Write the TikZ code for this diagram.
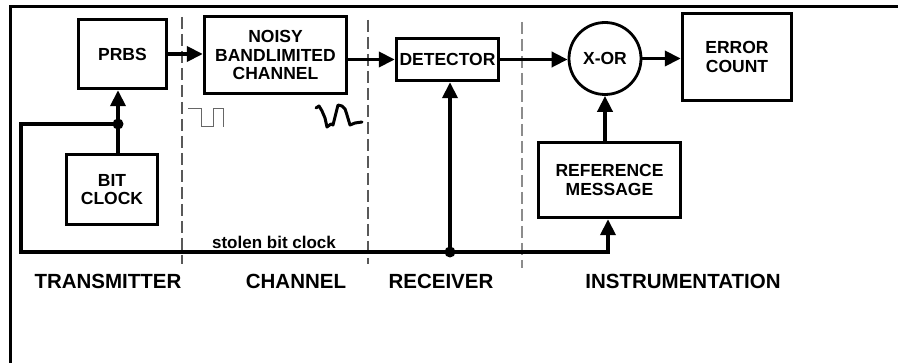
\documentclass[tikz,border=0pt]{standalone}
\usepackage{fontspec}
\setmainfont{Liberation Sans}
\usetikzlibrary{arrows.meta}
\newcommand{\blockfont}{\fontsize{17.5}{18.5}\selectfont\bfseries}
\newcommand{\regionfont}{\fontsize{20.5}{22}\selectfont\bfseries}
\newcommand{\wirefont}{\fontsize{17}{18}\selectfont\bfseries}
\tikzset{
  block/.style={draw, line width=3.4pt, font=\blockfont, align=center, inner sep=0pt},
  wire/.style={line width=3.8pt},
  flow/.style={wire, -{Triangle[length=16pt,width=15pt]}},
  junction/.style={circle, fill, inner sep=0pt, minimum size=11pt},
  divider/.style={dash pattern=on 12pt off 5pt, line width=1.3pt, black!65},
  region/.style={font=\regionfont}
}

\begin{document}
\begin{tikzpicture}[x=1pt, y=-1pt]

\useasboundingbox (0,0) rectangle (898,363);
\draw[line width=3pt] (10,363) -- (10,7) -- (898,7);

\coordinate (clk) at (118,124);
\coordinate (tap) at (450,252);
\coordinate (loopNW) at (21,124);
\coordinate (loopSW) at (21,252);
\coordinate (refin) at (608,252);

\node[block, minimum width=88pt, minimum height=69pt] (prbs) at (122.5,54) {PRBS};
\node[block, minimum width=142pt, minimum height=77pt] (channel) at (275.5,55) {NOISY\\BANDLIMITED\\CHANNEL};
\node[block, minimum width=102pt, minimum height=42pt] (detector) at (447.5,59.5) {DETECTOR};
\node[block, circle, line width=2.8pt, minimum size=72pt] (xor) at (605,58.5) {X-OR};
\node[block, minimum width=109pt, minimum height=87pt] (errcount) at (737,57) {ERROR\\COUNT};
\node[block, minimum width=142pt, minimum height=75pt] (refmsg) at (609.5,180) {REFERENCE\\MESSAGE};
\node[block, minimum width=91pt, minimum height=70pt] (bitclock) at (112,189.5) {BIT\\CLOCK};

% section borders
\draw[divider] (182,17) -- (182,264);
\draw[divider] (368,20) -- (368,264);
\draw[divider, black!45] (522,22) -- (522,268);

\draw[flow] (prbs.east) -- (channel.west |- prbs.east);
\draw[flow] (channel.east |- detector.west) -- (detector.west);
\draw[flow] (detector.east) -- (xor.west |- detector.east);
\draw[flow] (xor.east) -- (errcount.west |- xor.east);
\draw[flow] (xor.south |- refmsg.north) -- (xor.south);

\draw[wire] (bitclock.north -| clk) -- (clk);
\draw[flow] (clk) -- (prbs.south -| clk);
\draw[flow, line join=miter] (clk) -- (loopNW) -- (loopSW) -- (refin) -- (refin |- refmsg.south);
\draw[flow] (tap) -- (tap |- detector.south);
\node[junction] at (clk) {};
\node[junction] at (tap) {};

\node[font=\wirefont] (stolen) at (274,242) {stolen bit clock};

% waveforms under the channel
\draw[black!60, line width=1pt] (188,109) -- (201,109) -- (201,127) -- (213,127)
  -- (213,109) -- (223,109) -- (223,127);
\draw[line width=3pt, line join=round, line cap=round] (316,108) -- (319,106) -- (322,111)
  -- (325,118) -- (327,127) -- (331,124) -- (333,125) -- (336,113) -- (338,105)
  -- (342,106) -- (345,109) -- (347,115) -- (350,125) -- (355,123) -- (362,122);

\node[region] (tx) at (108,281) {TRANSMITTER};
\node[region] (ch) at (296,281) {CHANNEL};
\node[region] (rx) at (441,281) {RECEIVER};
\node[region] (instr) at (683,281) {INSTRUMENTATION};

\end{tikzpicture}
\end{document}
